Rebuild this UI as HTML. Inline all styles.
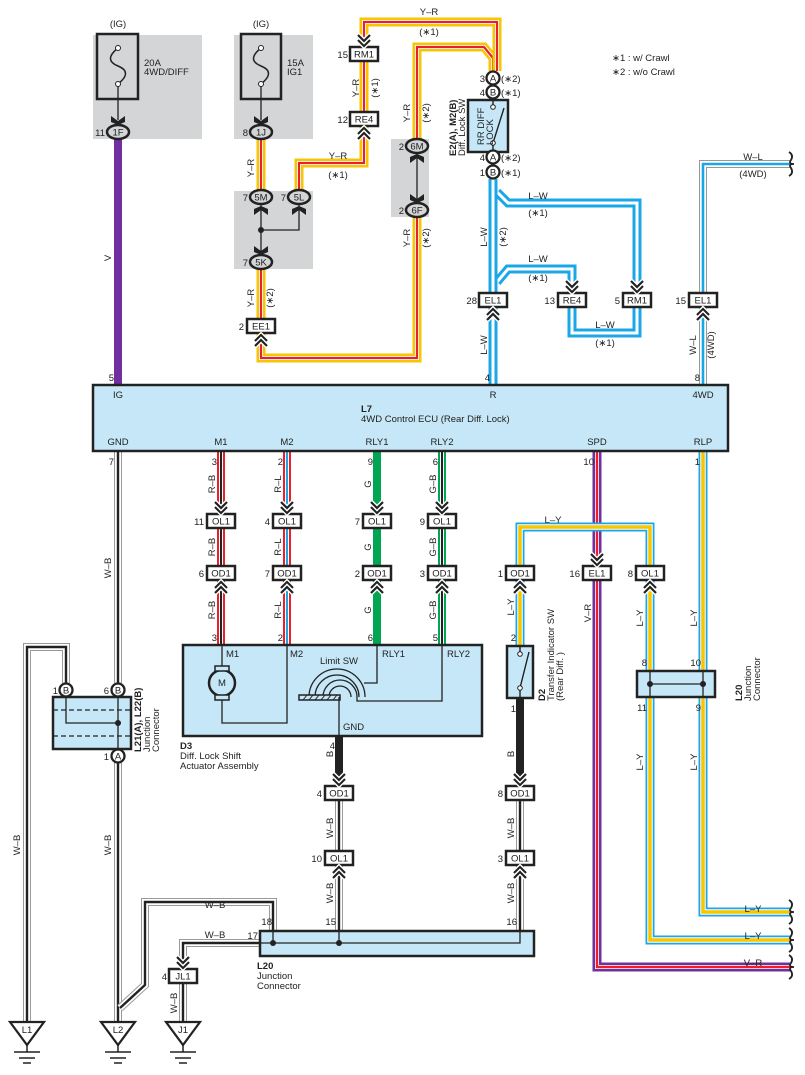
<!DOCTYPE html>
<html><head><meta charset="utf-8"><style>
html,body{margin:0;padding:0;background:#fff}
svg{display:block}
text{font-family:"Liberation Sans",sans-serif;font-size:9.5px;fill:#222}
.b{font-weight:bold}
</style></head><body>
<svg id="s" width="805" height="1075" viewBox="0 0 805 1075" xmlns="http://www.w3.org/2000/svg">
<g id="bg">
<rect x="93" y="35" width="109" height="104" fill="#d4d5d7"/>
<rect x="234" y="35" width="79" height="104" fill="#d4d5d7"/>
<rect x="234" y="191" width="79" height="78" fill="#d4d5d7"/>
<rect x="391" y="139" width="38" height="78" fill="#d4d5d7"/>
<rect x="97" y="34" width="41" height="65" fill="none" stroke="#222" stroke-width="2.5"/>
<rect x="241" y="34" width="40" height="65" fill="none" stroke="#222" stroke-width="2.5"/>
<path d="M118 48 C108 56,108 62,118 66 C128 70,128 76,118 84" fill="none" stroke="#222" stroke-width="1.5"/>
<path d="M261 48 C251 56,251 62,261 66 C271 70,271 76,261 84" fill="none" stroke="#222" stroke-width="1.5"/>
<circle cx="118" cy="48" r="2.5" fill="#fff" stroke="#222"/><circle cx="118" cy="84" r="2.5" fill="#fff" stroke="#222"/>
<circle cx="261" cy="48" r="2.5" fill="#fff" stroke="#222"/><circle cx="261" cy="84" r="2.5" fill="#fff" stroke="#222"/>
<line x1="118" y1="86" x2="118" y2="120" stroke="#222" stroke-width="1.3"/>
<line x1="261" y1="86" x2="261" y2="120" stroke="#222" stroke-width="1.3"/>
<path d="M261 204 V255 M261 230 H299 V204 M417 152 V203" stroke="#222" stroke-width="1.3" fill="none"/>
<circle cx="261" cy="230" r="3" fill="#222"/>
</g>
<g id="wires"></g>
<g id="parts">
<rect x="93" y="385" width="635" height="66" fill="#c6e7f7" stroke="#222" stroke-width="2.5"/>
<rect x="468" y="100" width="40" height="52" fill="#c6e7f7" stroke="#222" stroke-width="2.5"/>
<path d="M493 92 V107 M493 143 V157 M493 143 L504 108" stroke="#222" stroke-width="1.4" fill="none"/>
<circle cx="493" cy="107" r="2.3" fill="#fff" stroke="#222"/><circle cx="493" cy="143" r="2.3" fill="#fff" stroke="#222"/>
<rect x="183" y="645" width="299" height="91" fill="#c6e7f7" stroke="#222" stroke-width="2.5"/>
<path d="M222 645 V668 M222 698 V723 H287 V645" stroke="#222" stroke-width="1.3" fill="none"/>
<circle cx="222" cy="683" r="13" fill="#c6e7f7" stroke="#222" stroke-width="2.5"/>
<rect x="215" y="666" width="14" height="5" fill="#c6e7f7" stroke="#222" stroke-width="1.5"/>
<rect x="215" y="695" width="14" height="5" fill="#c6e7f7" stroke="#222" stroke-width="1.5"/>
<path d="M377 645 V683 H364 M309 697 A28 28 0 0 1 365 697 M315 697 A22 22 0 0 1 359 697 M323 697 A17 17 0 0 1 357 697 M329 697 A11 11 0 0 1 351 697 M357 697 V701 H442 V645" stroke="#222" stroke-width="1.3" fill="none"/>
<rect x="299" y="695" width="41" height="5" fill="#c6e7f7" stroke="#222" stroke-width="1.5"/>
<path d="M303 700 L307 695 M309 700 L313 695 M315 700 L319 695 M321 700 L325 695 M327 700 L331 695 M333 700 L337 695" stroke="#222" stroke-width="1"/>
<line x1="339" y1="697" x2="339" y2="736" stroke="#222" stroke-width="1.3"/>
<rect x="507" y="646" width="26" height="52" fill="#c6e7f7" stroke="#222" stroke-width="2.5"/>
<path d="M520 645 V654 M520 688 V698 M520 688 L529 652" stroke="#222" stroke-width="1.4" fill="none"/>
<circle cx="520" cy="654" r="2.3" fill="#fff" stroke="#222"/><circle cx="520" cy="688" r="2.3" fill="#fff" stroke="#222"/>
<rect x="637" y="671" width="78" height="26" fill="#c6e7f7" stroke="#222" stroke-width="2.5"/>
<path d="M650 671 V697 M703 671 V697 M650 684 H703" stroke="#222" stroke-width="1.3"/>
<circle cx="650" cy="684" r="3" fill="#222"/><circle cx="703" cy="684" r="3" fill="#222"/>
<rect x="53" y="697" width="78" height="52" fill="#c6e7f7" stroke="#222" stroke-width="2.5"/>
<path d="M53 710 H131 M53 736 H131" stroke="#222" stroke-width="1.3" stroke-dasharray="5 3"/>
<path d="M66 697 V723 H118 M118 697 V749" stroke="#222" stroke-width="1.3" fill="none"/>
<circle cx="118" cy="723" r="3" fill="#222"/>
<rect x="260" y="931" width="274" height="25" fill="#c6e7f7" stroke="#222" stroke-width="2.5"/>
<path d="M273 931 V943 M260 943 H520 V931 M339 931 V943" stroke="#222" stroke-width="1.3" fill="none"/>
<circle cx="273" cy="943" r="3" fill="#222"/><circle cx="339" cy="943" r="3" fill="#222"/>
</g>
<g id="conns"></g>
<g id="txt">
<text x="118" y="27" text-anchor="middle">(IG)</text>
<text x="261" y="27" text-anchor="middle">(IG)</text>
<text x="144" y="66">20A</text><text x="144" y="75">4WD/DIFF</text>
<text x="287" y="66">15A</text><text x="287" y="75">IG1</text>
<text x="105" y="136" text-anchor="end">11</text><text x="118" y="135.5" text-anchor="middle">1F</text>
<text x="248" y="136" text-anchor="end">8</text><text x="261" y="135.5" text-anchor="middle">1J</text>
<text x="248" y="201" text-anchor="end">7</text><text x="261" y="200.5" text-anchor="middle">5M</text>
<text x="286" y="201" text-anchor="end">7</text><text x="299" y="200.5" text-anchor="middle">5L</text>
<text x="248" y="266" text-anchor="end">7</text><text x="261" y="265.5" text-anchor="middle">5K</text>
<text x="404" y="150" text-anchor="end">2</text><text x="417" y="149.5" text-anchor="middle">6M</text>
<text x="404" y="214" text-anchor="end">2</text><text x="417" y="213.5" text-anchor="middle">6F</text>
<text x="429" y="15" text-anchor="middle">Y–R</text><text x="429" y="35" text-anchor="middle">(∗1)</text>
<text x="338" y="159" text-anchor="middle">Y–R</text><text x="338" y="178" text-anchor="middle">(∗1)</text>
<text x="612" y="61">∗1 : w/ Crawl</text><text x="612" y="75">∗2 : w/o Crawl</text>
<g text-anchor="end">
<text x="348" y="58">15</text><text x="348" y="123">12</text><text x="244" y="330">2</text>
<text x="485" y="82">3</text><text x="485" y="96">4</text><text x="485" y="161">4</text><text x="485" y="176">1</text>
<text x="477" y="304">28</text><text x="555" y="304">13</text><text x="620" y="304">5</text><text x="686" y="304">15</text>
<text x="114" y="381">5</text><text x="490" y="381">4</text><text x="700" y="381">8</text>
<text x="217" y="465">3</text><text x="283" y="465">2</text><text x="373" y="465">9</text><text x="438" y="465">6</text><text x="594" y="465">10</text><text x="700" y="465">1</text>
<text x="114" y="465">7</text>
<text x="204" y="525">11</text><text x="270" y="525">4</text><text x="360" y="525">7</text><text x="425" y="525">9</text>
<text x="204" y="577">6</text><text x="270" y="577">7</text><text x="360" y="577">2</text><text x="425" y="577">3</text><text x="503" y="577">1</text><text x="580" y="577">16</text><text x="633" y="577">8</text>
<text x="217" y="641">3</text><text x="283" y="641">2</text><text x="373" y="641">6</text><text x="438" y="641">5</text>
<text x="516" y="641">2</text><text x="516" y="712">1</text><text x="335" y="749">4</text>
<text x="647" y="666">8</text><text x="701" y="666">10</text><text x="647" y="711">11</text><text x="701" y="711">9</text>
<text x="322" y="797">4</text><text x="503" y="797">8</text><text x="322" y="862">10</text><text x="503" y="862">3</text>
<text x="58" y="694">1</text><text x="109" y="694">6</text><text x="109" y="760">1</text>
<text x="272" y="925">18</text><text x="258" y="939">17</text><text x="336" y="925">15</text><text x="517" y="925">16</text>
<text x="167" y="980">4</text>
</g>
<text x="501" y="82">(∗2)</text><text x="501" y="96">(∗1)</text><text x="501" y="161">(∗2)</text><text x="501" y="176">(∗1)</text>
<text x="538" y="199" text-anchor="middle">L–W</text><text x="538" y="216" text-anchor="middle">(∗1)</text>
<text x="538" y="262" text-anchor="middle">L–W</text><text x="538" y="281" text-anchor="middle">(∗1)</text>
<text x="605" y="328" text-anchor="middle">L–W</text><text x="605" y="346" text-anchor="middle">(∗1)</text>
<text x="753" y="160" text-anchor="middle">W–L</text><text x="753" y="177" text-anchor="middle">(4WD)</text>
<text x="118" y="398" text-anchor="middle">IG</text><text x="493" y="398" text-anchor="middle">R</text><text x="703" y="398" text-anchor="middle">4WD</text>
<text x="361" y="412" class="b">L7</text><text x="361" y="422">4WD Control ECU (Rear Diff.  Lock)</text>
<g text-anchor="middle">
<text x="118" y="445">GND</text><text x="221" y="445">M1</text><text x="287" y="445">M2</text><text x="377" y="445">RLY1</text><text x="442" y="445">RLY2</text><text x="597" y="445">SPD</text><text x="703" y="445">RLP</text>
<text x="553" y="523">L–Y</text>
<text x="222" y="686" font-size="8.5">M</text>
<text x="215" y="908">W–B</text><text x="215" y="938">W–B</text>
<text x="753" y="912">L–Y</text><text x="753" y="939">L–Y</text><text x="753" y="966">V–R</text>
<text x="493" y="81.5">A</text><text x="493" y="95.5">B</text><text x="493" y="160.5">A</text><text x="493" y="175.5">B</text>
<text x="66" y="693.5">B</text><text x="118" y="693.5">B</text><text x="118" y="759.5">A</text>
<text x="27" y="1033">L1</text><text x="118" y="1033">L2</text><text x="183" y="1033">J1</text>
</g>
<text x="226" y="657">M1</text><text x="290" y="657">M2</text><text x="320" y="664">Limit SW</text><text x="382" y="657">RLY1</text><text x="447" y="657">RLY2</text>
<text x="343" y="730">GND</text>
<text x="180" y="749" class="b">D3</text><text x="180" y="759">Diff.  Lock Shift</text><text x="180" y="769">Actuator Assembly</text>
<text x="257" y="969" class="b">L20</text><text x="257" y="979">Junction</text><text x="257" y="989">Connector</text>
<g transform="rotate(-90)">
<text x="-156" y="456" class="b">E2(A), M2(B)</text><text x="-156" y="465">Diff.  Lock SW</text>
<text x="-145" y="484">RR DIFF</text><text x="-145" y="493">LOCK</text>
<text x="-701" y="545" class="b">D2</text><text x="-701" y="554">Transfer Indicator SW</text><text x="-701" y="563">(Rear Diff. )</text>
<text x="-701" y="742" class="b">L20</text><text x="-701" y="751">Junction</text><text x="-701" y="760">Connector</text>
<text x="-752" y="141" class="b">L21(A), L22(B)</text><text x="-752" y="150">Junction</text><text x="-752" y="159">Connector</text>
<g text-anchor="middle">
<text x="-258" y="111">V</text>
<text x="-168" y="254">Y–R</text><text x="-298" y="254">Y–R</text><text x="-298" y="273">(∗2)</text>
<text x="-88" y="359">Y–R</text><text x="-88" y="378">(∗1)</text>
<text x="-113" y="410">Y–R</text><text x="-113" y="429">(∗2)</text>
<text x="-238" y="410">Y–R</text><text x="-238" y="429">(∗2)</text>
<text x="-237" y="487">L–W</text><text x="-237" y="506">(∗2)</text>
<text x="-345" y="487">L–W</text>
<text x="-345" y="696">W–L</text><text x="-345" y="714">(4WD)</text>
<text x="-484" y="215">R–B</text><text x="-547" y="215">R–B</text><text x="-610" y="215">R–B</text>
<text x="-484" y="281">R–L</text><text x="-547" y="281">R–L</text><text x="-610" y="281">R–L</text>
<text x="-484" y="371">G</text><text x="-547" y="371">G</text><text x="-610" y="371">G</text>
<text x="-484" y="436">G–B</text><text x="-547" y="436">G–B</text><text x="-610" y="436">G–B</text>
<text x="-613" y="591">V–R</text>
<text x="-607" y="514">L–Y</text>
<text x="-618" y="643">L–Y</text><text x="-618" y="697">L–Y</text>
<text x="-762" y="643">L–Y</text><text x="-762" y="697">L–Y</text>
<text x="-754" y="333">B</text><text x="-754" y="514">B</text>
<text x="-828" y="333">W–B</text><text x="-828" y="514">W–B</text>
<text x="-893" y="333">W–B</text><text x="-893" y="514">W–B</text>
<text x="-568" y="111">W–B</text><text x="-845" y="111">W–B</text><text x="-845" y="20">W–B</text>
<text x="-1003" y="177">W–B</text>
</g>
</g>
</g>
</svg>
<script>
var NS="http://www.w3.org/2000/svg";
var S=document.getElementById("s");
var W=document.getElementById("wires"),C=document.getElementById("conns");
function el(p,tag,a){var e=document.createElementNS(NS,tag);for(var k in a)e.setAttribute(k,a[k]);p.appendChild(e);return e;}
var BL="#1aa7e8",YE="#f7c600",RE="#e8202a",PU="#7030a0",GR="#00a651",GY="#999";
var T={YR:[[YE,9],["#fff",4],[RE,2.2]],LW:[[BL,9],["#fff",3]],WB:[[GY,8],["#fff",6],["#222",2.4]],LY:[[BL,9],["#fff",5.5],[YE,3.5]],
VR:[[PU,9],["#fff",4],[RE,2.4]],RB:[[RE,8],["#fff",4],["#222",2]],RL:[[RE,8],["#fff",4],[BL,2]],G:[[GR,8]],GB:[[GR,8],["#fff",4],["#222",2]],
B:[["#222",8]],V:[[PU,8]],WL:[[GY,8],["#fff",6],[BL,2.6]]};
function w(t,pts){var d="M"+pts.map(function(p){return p.join(" ")}).join(" L");T[t].forEach(function(s){el(W,"path",{d:d,fill:"none",stroke:s[0],"stroke-width":s[1],"stroke-linejoin":"miter"});});}
w("V",[[118,139],[118,385]]);
w("YR",[[261,139],[261,191]]);
w("YR",[[261,269],[261,319]]);
w("YR",[[261,334],[261,358],[417,358],[417,217]]);
w("YR",[[417,139],[417,47],[484,47],[493,58],[493,71]]);
w("YR",[[364,47],[364,22],[497,22],[497,71]]);
w("YR",[[364,61],[364,112]]);
w("YR",[[299,191],[299,163],[364,163],[364,126]]);
w("LW",[[497,192],[508,203],[637,203],[637,293]]);
w("LW",[[497,282],[508,269],[572,269],[572,293]]);
w("LW",[[493,179],[493,293]]);
w("LW",[[493,307],[493,385]]);
w("LW",[[572,307],[572,333],[637,333],[637,307]]);
w("WL",[[703,385],[703,307]]);
w("WL",[[703,293],[703,164],[790,164]]);
[[221,"RB"],[287,"RL"],[377,"G"],[442,"GB"]].forEach(function(c){var x=c[0];w(c[1],[[x,452],[x,514]]);w(c[1],[[x,528],[x,566]]);w(c[1],[[x,580],[x,645]]);});
w("VR",[[597,452],[597,566]]);
w("VR",[[597,580],[597,967],[790,967]]);
w("LY",[[703,452],[703,912],[790,912]]);
w("LY",[[520,566],[520,527],[650,527],[650,566]]);
w("LY",[[520,580],[520,646]]);
w("LY",[[650,580],[650,940],[790,940]]);
w("B",[[520,698],[520,786]]);w("B",[[339,737],[339,786]]);
[339,520].forEach(function(x){w("WB",[[x,800],[x,851]]);w("WB",[[x,865],[x,931]]);});
w("WB",[[118,452],[118,683]]);
w("WB",[[118,763],[118,1022]]);
w("WB",[[27,1022],[27,647],[66,647],[66,683]]);
w("WB",[[273,931],[273,902],[145,902],[145,985],[120,1008]]);
w("WB",[[260,943],[183,943],[183,962]]);
w("WB",[[183,983],[183,1022]]);
[164,912,940,967].forEach(function(y){el(C,"path",{d:"M789 "+(y-12)+" q5 3 2 8 q-3 4 3 4 q-6 0 -3 4 q3 5 -2 8",fill:"none",stroke:"#222","stroke-width":1.8});});
function ch(x,y,dir){var s=dir=="u"?1:-1;for(var i=0;i<2;i++){var yy=y+s*i*5;var d="M"+(x-6)+" "+(yy+s*6)+" L"+x+" "+yy+" L"+(x+6)+" "+(yy+s*6);el(C,"path",{d:d,fill:"none",stroke:"#fff","stroke-width":5});el(C,"path",{d:d,fill:"none",stroke:"#222","stroke-width":2.2});}}
function bx(x,y,t){el(C,"rect",{x:x-14,y:y-7,width:28,height:14,fill:"#fff",stroke:"#222","stroke-width":2.5});var e=el(C,"text",{x:x,y:y+3.5,"text-anchor":"middle"});e.textContent=t;}
bx(364,54,"RM1");ch(364,46,"d");
bx(364,119,"RE4");ch(364,128,"u");
bx(261,326,"EE1");ch(261,335,"u");
bx(493,300,"EL1");ch(493,309,"u");
bx(572,300,"RE4");ch(572,292,"d");
bx(637,300,"RM1");ch(637,292,"d");
bx(703,300,"EL1");ch(703,309,"u");
[221,287,377,442].forEach(function(x){bx(x,521,"OL1");ch(x,513,"d");bx(x,573,"OD1");ch(x,582,"u");});
bx(520,573,"OD1");ch(520,582,"u");
bx(597,573,"EL1");ch(597,565,"d");
bx(650,573,"OL1");ch(650,582,"u");
bx(339,793,"OD1");ch(339,785,"d");bx(520,793,"OD1");ch(520,785,"d");
bx(339,858,"OL1");ch(339,867,"u");bx(520,858,"OL1");ch(520,867,"u");
bx(183,976,"JL1");ch(183,968,"d");
function fa(x,y,dir){var s=dir=="d"?1:-1;el(C,"path",{d:"M"+(x-7)+" "+(y-s*9)+" L"+x+" "+(y-s*4)+" L"+(x+7)+" "+(y-s*9)+" L"+(x+7)+" "+(y-s*3)+" L"+x+" "+y+" L"+(x-7)+" "+(y-s*3)+" Z",fill:"#222"});}
fa(118,125,"d");fa(261,125,"d");fa(261,206,"u");fa(299,206,"u");fa(261,255,"d");fa(417,154,"u");fa(417,203,"d");
function ov(x,y){el(C,"ellipse",{cx:x,cy:y,rx:11,ry:7,fill:"#d4d5d7",stroke:"#222","stroke-width":2.5});}
[[118,132],[261,132],[261,197],[299,197],[261,262],[417,146],[417,210]].forEach(function(p){ov(p[0],p[1]);});
function ci(x,y){el(C,"circle",{cx:x,cy:y,r:6.5,fill:"#fff",stroke:"#222","stroke-width":2.3});}
[[493,78],[493,92],[493,157],[493,172],[66,690],[118,690],[118,756]].forEach(function(p){ci(p[0],p[1]);});
[[27,"L1"],[118,"L2"],[183,"J1"]].forEach(function(g){var x=g[0];el(C,"path",{d:"M"+(x-17)+" 1022 H"+(x+17)+" L"+x+" 1045 Z",fill:"#fff",stroke:"#222","stroke-width":2.2});
el(C,"path",{d:"M"+x+" 1045 V1052 M"+(x-13)+" 1052 H"+(x+13)+" M"+(x-8)+" 1058 H"+(x+8)+" M"+(x-4)+" 1063 H"+(x+4),stroke:"#222","stroke-width":1.5});});
S.appendChild(document.getElementById("txt"));
</script>
</body></html>
